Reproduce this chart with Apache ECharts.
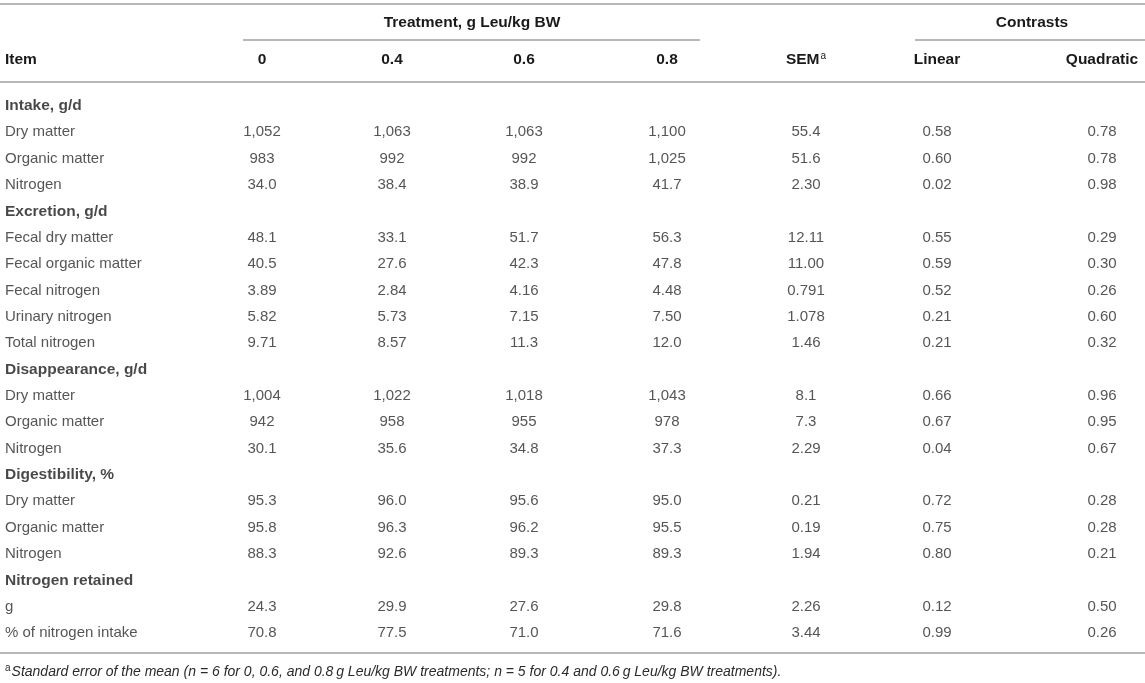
<!DOCTYPE html>
<html>
<head>
<meta charset="utf-8">
<script src="https://cdn.jsdelivr.net/npm/echarts@6/dist/echarts.min.js"></script>
<style>
  html, body { margin: 0; padding: 0; background: #fff; }
  #main { width: 1145px; height: 683px; }
</style>
</head>
<body>
<div id="main"></div>
<script>
// row labels (section headings have no values)
var items = ['Intake, g/d', 'Dry matter', 'Organic matter', 'Nitrogen',
  'Excretion, g/d', 'Fecal dry matter', 'Fecal organic matter', 'Fecal nitrogen', 'Urinary nitrogen', 'Total nitrogen',
  'Disappearance, g/d', 'Dry matter', 'Organic matter', 'Nitrogen',
  'Digestibility, %', 'Dry matter', 'Organic matter', 'Nitrogen',
  'Nitrogen retained', 'g', '% of nitrogen intake'];
var sections = [0, 4, 10, 14, 18];

var headers = ['0', '0.4', '0.6', '0.8', 'SEM', 'Linear', 'Quadratic'];

var leu0 = ['', '1,052', '983', '34.0', '', '48.1', '40.5', '3.89', '5.82', '9.71', '', '1,004', '942', '30.1', '', '95.3', '95.8', '88.3', '', '24.3', '70.8'];
var leu04 = ['', '1,063', '992', '38.4', '', '33.1', '27.6', '2.84', '5.73', '8.57', '', '1,022', '958', '35.6', '', '96.0', '96.3', '92.6', '', '29.9', '77.5'];
var leu06 = ['', '1,063', '992', '38.9', '', '51.7', '42.3', '4.16', '7.15', '11.3', '', '1,018', '955', '34.8', '', '95.6', '96.2', '89.3', '', '27.6', '71.0'];
var leu08 = ['', '1,100', '1,025', '41.7', '', '56.3', '47.8', '4.48', '7.50', '12.0', '', '1,043', '978', '37.3', '', '95.0', '95.5', '89.3', '', '29.8', '71.6'];
var sem = ['', '55.4', '51.6', '2.30', '', '12.11', '11.00', '0.791', '1.078', '1.46', '', '8.1', '7.3', '2.29', '', '0.21', '0.19', '1.94', '', '2.26', '3.44'];
var linear = ['', '0.58', '0.60', '0.02', '', '0.55', '0.59', '0.52', '0.21', '0.21', '', '0.66', '0.67', '0.04', '', '0.72', '0.75', '0.80', '', '0.12', '0.99'];
var quadratic = ['', '0.78', '0.78', '0.98', '', '0.29', '0.30', '0.26', '0.60', '0.32', '', '0.96', '0.95', '0.67', '', '0.28', '0.28', '0.21', '', '0.50', '0.26'];

var footnote = 'Standard error of the mean (n = 6 for 0, 0.6, and 0.8\u2009g Leu/kg BW treatments; n = 5 for 0.4 and 0.6\u2009g Leu/kg BW treatments).';

// layout: column centres in pixels
var colX = [262, 392, 524, 667, 806, 937, 1102];
var itemX = 5;
var FONT = 'Liberation Sans, Arial, Helvetica, sans-serif';
var TEXT = '#2b2b2b';
var DARK = '#1a1a1a';
var RULE = '#b8b8b8';

var columns = [leu0, leu04, leu06, leu08, sem, linear, quadratic];

var series = [];
series.push({
  type: 'scatter',
  symbolSize: 1,
  itemStyle: { color: 'rgba(0,0,0,0)' },
  silent: true,
  data: items.map(function (name, i) {
    var bold = sections.indexOf(i) >= 0;
    return {
      value: [itemX, i],
      name: name,
      label: bold ? { fontWeight: 'bold', fontSize: 15.5, color: DARK } : {}
    };
  }),
  label: {
    show: true, position: 'inside', align: 'left', verticalAlign: 'middle',
    fontFamily: FONT, fontSize: 15, color: TEXT,
    formatter: function (p) { return p.name; }
  }
});
columns.forEach(function (col, c) {
  series.push({
    type: 'scatter',
    symbolSize: 1,
    itemStyle: { color: 'rgba(0,0,0,0)' },
    silent: true,
    data: col.map(function (v, i) { return { value: [colX[c], i], name: v }; })
      .filter(function (d) { return d.name !== ''; }),
    label: {
      show: true, position: 'inside', align: 'center', verticalAlign: 'middle',
      fontFamily: FONT, fontSize: 15, color: TEXT,
      formatter: function (p) { return p.name; }
    }
  });
});

function hline(x1, x2, y) {
  return { type: 'line', shape: { x1: x1, y1: y, x2: x2, y2: y }, style: { stroke: RULE, lineWidth: 2 }, silent: true };
}
function htext(x, y, t, align) {
  return { type: 'text', x: x, y: y, silent: true,
    style: { text: t, align: align || 'center', verticalAlign: 'middle', font: 'bold 15.5px ' + FONT, fill: DARK } };
}

var graphic = [
  hline(0, 1145, 4),
  hline(243, 700, 40),
  hline(915, 1145, 40),
  hline(0, 1145, 82),
  hline(0, 1145, 653),
  htext(472, 23, 'Treatment, g Leu/kg BW'),
  htext(1032, 23, 'Contrasts'),
  htext(itemX, 60, 'Item', 'left')
];
headers.forEach(function (h, c) {
  if (h === 'SEM') {
    graphic.push({ type: 'text', x: colX[c], y: 60, silent: true,
      style: { text: '{b|SEM}{s|a}', align: 'center', verticalAlign: 'middle',
        rich: {
          b: { font: 'bold 15.5px ' + FONT, fill: DARK },
          s: { font: '10px ' + FONT, fill: DARK, verticalAlign: 'top', padding: [0, 0, 8, 1] }
        } } });
  } else {
    graphic.push(htext(colX[c], 60, h));
  }
});
graphic.push({ type: 'text', x: itemX, y: 672, silent: true,
  style: { text: '{s|a}{t|' + footnote + '}', align: 'left', verticalAlign: 'middle',
    rich: {
      s: { font: '10px ' + FONT, fill: TEXT, padding: [0, 1, 8, 0] },
      t: { font: 'italic 14px ' + FONT, fill: TEXT }
    } } });

var chart = echarts.init(document.getElementById('main'));
chart.setOption({
  backgroundColor: '#fff',
  animation: false,
  grid: { left: 0, right: 0, top: 92.8, height: 553.4 },
  xAxis: { type: 'value', min: 0, max: 1145, show: false },
  yAxis: { type: 'value', inverse: true, min: -0.5, max: 20.5, show: false },
  series: series,
  graphic: graphic
});
</script>
</body>
</html>
